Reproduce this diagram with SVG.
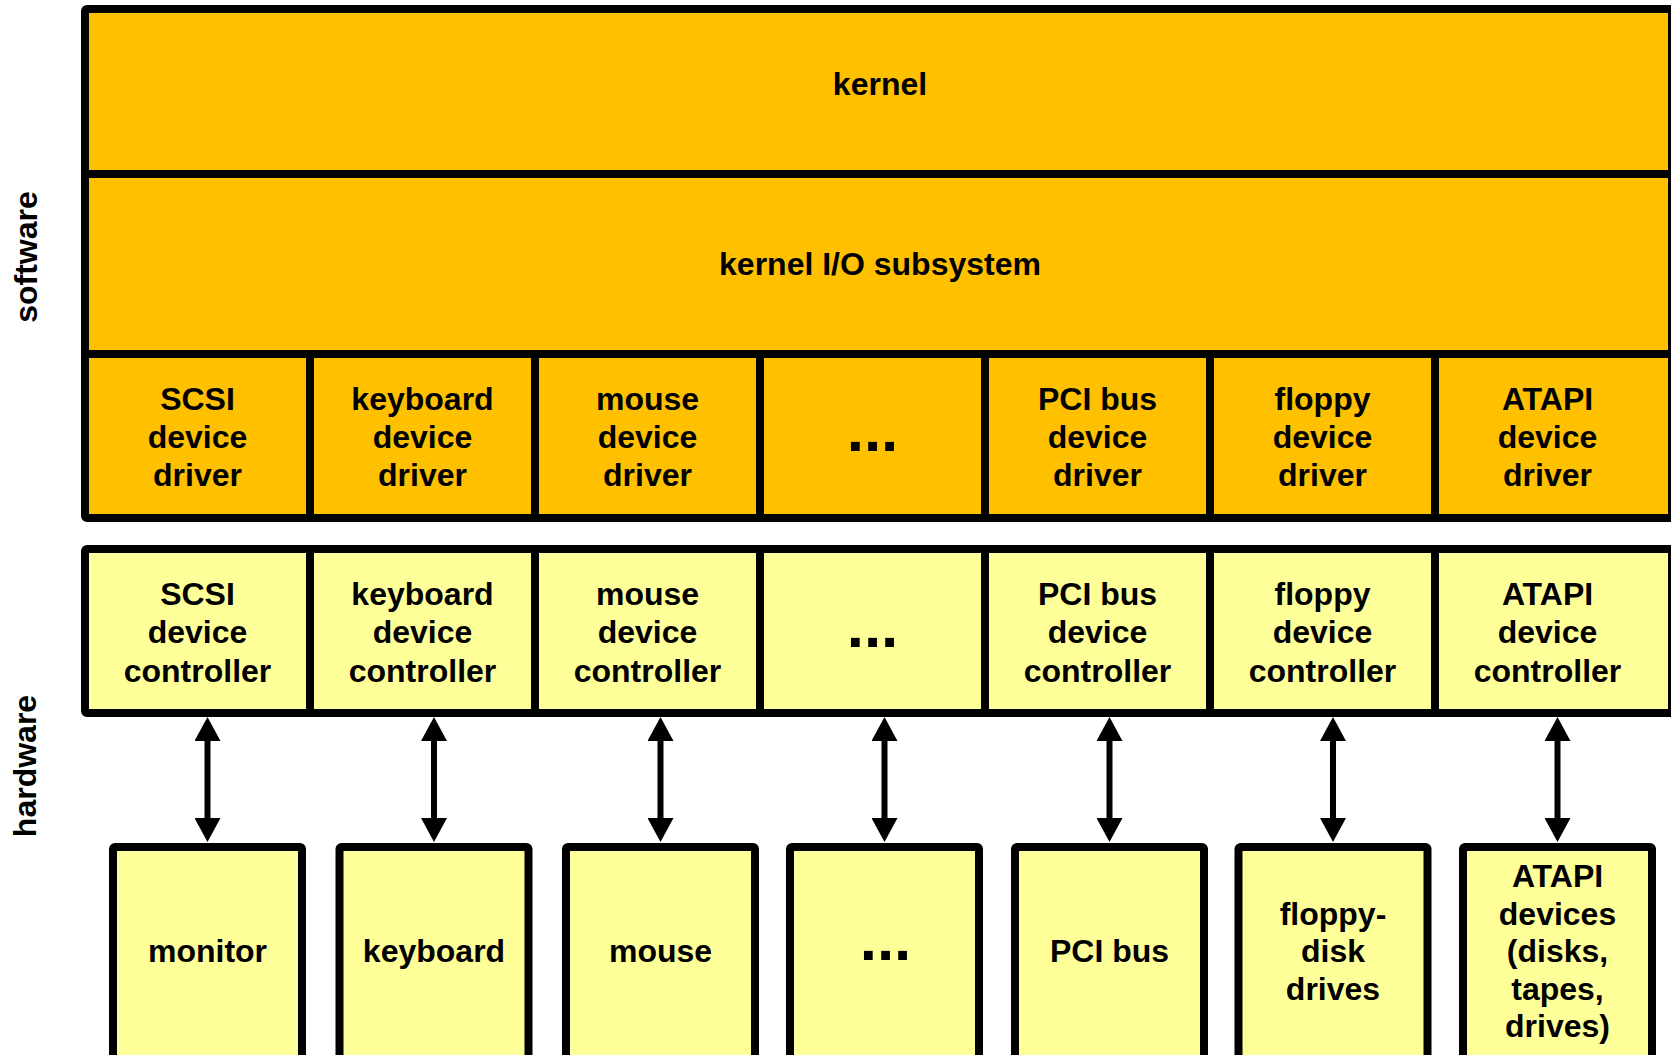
<svg xmlns="http://www.w3.org/2000/svg" width="1671" height="1055" viewBox="0 0 1671 1055">
<style>
.sw{fill:#FFC000;stroke:#000;stroke-width:8;stroke-linejoin:round}
.hw{fill:#FFFF99;stroke:#000;stroke-width:8;stroke-linejoin:round}
.ln{stroke:#000;stroke-width:8;fill:none}
.t{font-family:"Liberation Sans",Arial,sans-serif;font-weight:bold;font-size:32px;fill:#000;text-anchor:middle}
.d{font-family:"Liberation Sans",Arial,sans-serif;font-weight:bold;font-size:62px;fill:#000;text-anchor:middle}
.ar{stroke:#000;stroke-width:6;fill:none}
</style>
<defs>
<marker id="ah" markerUnits="userSpaceOnUse" markerWidth="24" markerHeight="26" refX="0" refY="13" orient="auto-start-reverse">
<path d="M0,0 L24,13 L0,26 z" fill="#000"/>
</marker>
</defs>
<rect width="1671" height="1055" fill="#fff"/>

<text class="t" transform="translate(37,257) rotate(-90)">software</text>
<text class="t" transform="translate(36,766) rotate(-90)">hardware</text>

<g id="software">
<rect class="sw" x="85" y="9" width="1587" height="509" rx="2"/>
<line class="ln" x1="85" y1="174" x2="1672" y2="174"/>
<line class="ln" x1="85" y1="354" x2="1672" y2="354"/>
<line class="ln" x1="310" y1="354" x2="310" y2="518"/>
<line class="ln" x1="535" y1="354" x2="535" y2="518"/>
<line class="ln" x1="760" y1="354" x2="760" y2="518"/>
<line class="ln" x1="985" y1="354" x2="985" y2="518"/>
<line class="ln" x1="1210" y1="354" x2="1210" y2="518"/>
<line class="ln" x1="1435" y1="354" x2="1435" y2="518"/>
</g>
<g id="kernel"><text class="t" x="880" y="95">kernel</text></g>
<g id="kernel-io"><text class="t" x="880" y="275">kernel I/O subsystem</text></g>
<g id="drv-scsi"><text class="t" x="197.5" y="410">SCSI<tspan x="197.5" dy="37.8">device</tspan><tspan x="197.5" dy="37.8">driver</tspan></text></g>
<g id="drv-keyboard"><text class="t" x="422.5" y="410">keyboard<tspan x="422.5" dy="37.8">device</tspan><tspan x="422.5" dy="37.8">driver</tspan></text></g>
<g id="drv-mouse"><text class="t" x="647.5" y="410">mouse<tspan x="647.5" dy="37.8">device</tspan><tspan x="647.5" dy="37.8">driver</tspan></text></g>
<g id="drv-dots"><text class="d" x="872.5" y="451">...</text></g>
<g id="drv-pci"><text class="t" x="1097.5" y="410">PCI bus<tspan x="1097.5" dy="37.8">device</tspan><tspan x="1097.5" dy="37.8">driver</tspan></text></g>
<g id="drv-floppy"><text class="t" x="1322.5" y="410">floppy<tspan x="1322.5" dy="37.8">device</tspan><tspan x="1322.5" dy="37.8">driver</tspan></text></g>
<g id="drv-atapi"><text class="t" x="1547.5" y="410">ATAPI<tspan x="1547.5" dy="37.8">device</tspan><tspan x="1547.5" dy="37.8">driver</tspan></text></g>

<g id="controllers">
<rect class="hw" x="85" y="549" width="1587" height="164" rx="2"/>
<line class="ln" x1="310" y1="549" x2="310" y2="713"/>
<line class="ln" x1="535" y1="549" x2="535" y2="713"/>
<line class="ln" x1="760" y1="549" x2="760" y2="713"/>
<line class="ln" x1="985" y1="549" x2="985" y2="713"/>
<line class="ln" x1="1210" y1="549" x2="1210" y2="713"/>
<line class="ln" x1="1435" y1="549" x2="1435" y2="713"/>
</g>
<g id="ctl-scsi"><text class="t" x="197.5" y="605">SCSI<tspan x="197.5" dy="38.3">device</tspan><tspan x="197.5" dy="38.3">controller</tspan></text></g>
<g id="ctl-keyboard"><text class="t" x="422.5" y="605">keyboard<tspan x="422.5" dy="38.3">device</tspan><tspan x="422.5" dy="38.3">controller</tspan></text></g>
<g id="ctl-mouse"><text class="t" x="647.5" y="605">mouse<tspan x="647.5" dy="38.3">device</tspan><tspan x="647.5" dy="38.3">controller</tspan></text></g>
<g id="ctl-dots"><text class="d" x="872.5" y="647">...</text></g>
<g id="ctl-pci"><text class="t" x="1097.5" y="605">PCI bus<tspan x="1097.5" dy="38.3">device</tspan><tspan x="1097.5" dy="38.3">controller</tspan></text></g>
<g id="ctl-floppy"><text class="t" x="1322.5" y="605">floppy<tspan x="1322.5" dy="38.3">device</tspan><tspan x="1322.5" dy="38.3">controller</tspan></text></g>
<g id="ctl-atapi"><text class="t" x="1547.5" y="605">ATAPI<tspan x="1547.5" dy="38.3">device</tspan><tspan x="1547.5" dy="38.3">controller</tspan></text></g>

<g id="connectors">
<line class="ar" x1="207.5" y1="741" x2="207.5" y2="818" marker-start="url(#ah)" marker-end="url(#ah)"/>
<line class="ar" x1="434" y1="741" x2="434" y2="818" marker-start="url(#ah)" marker-end="url(#ah)"/>
<line class="ar" x1="660.5" y1="741" x2="660.5" y2="818" marker-start="url(#ah)" marker-end="url(#ah)"/>
<line class="ar" x1="884.5" y1="741" x2="884.5" y2="818" marker-start="url(#ah)" marker-end="url(#ah)"/>
<line class="ar" x1="1109.5" y1="741" x2="1109.5" y2="818" marker-start="url(#ah)" marker-end="url(#ah)"/>
<line class="ar" x1="1333" y1="741" x2="1333" y2="818" marker-start="url(#ah)" marker-end="url(#ah)"/>
<line class="ar" x1="1557.5" y1="741" x2="1557.5" y2="818" marker-start="url(#ah)" marker-end="url(#ah)"/>
</g>

<g id="dev-monitor"><rect class="hw" x="113" y="847" width="189" height="230" rx="2"/><text class="t" x="207.5" y="962">monitor</text></g>
<g id="dev-keyboard"><rect class="hw" x="339.5" y="847" width="189" height="230" rx="2"/><text class="t" x="434" y="962">keyboard</text></g>
<g id="dev-mouse"><rect class="hw" x="566" y="847" width="189" height="230" rx="2"/><text class="t" x="660.5" y="962">mouse</text></g>
<g id="dev-dots"><rect class="hw" x="790" y="847" width="189" height="230" rx="2"/><text class="d" x="885.5" y="960">...</text></g>
<g id="dev-pci"><rect class="hw" x="1015" y="847" width="189" height="230" rx="2"/><text class="t" x="1109.5" y="962">PCI bus</text></g>
<g id="dev-floppy"><rect class="hw" x="1238.5" y="847" width="189" height="230" rx="2"/><text class="t" x="1333" y="924.5">floppy-<tspan x="1333" dy="37.5">disk</tspan><tspan x="1333" dy="37.5">drives</tspan></text></g>
<g id="dev-atapi"><rect class="hw" x="1463" y="847" width="189" height="230" rx="2"/><text class="t" x="1557.5" y="887">ATAPI<tspan x="1557.5" dy="37.5">devices</tspan><tspan x="1557.5" dy="37.5">(disks,</tspan><tspan x="1557.5" dy="37.5">tapes,</tspan><tspan x="1557.5" dy="37.5">drives)</tspan></text></g>
</svg>
